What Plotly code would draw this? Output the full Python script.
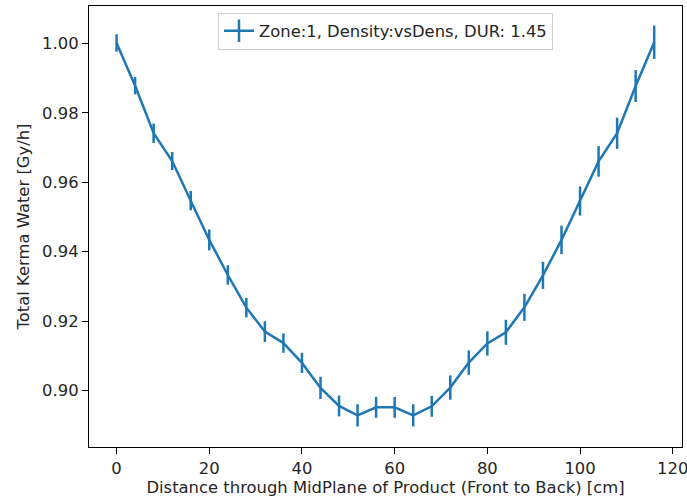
import plotly.graph_objects as go

distance_cm = [0, 4, 8, 12, 16, 20, 24, 28, 32, 36, 40, 44, 48, 52, 56,
               60, 64, 68, 72, 76, 80, 84, 88, 92, 96, 100, 104, 108, 112, 116]
kerma = [1.0001, 0.9878, 0.9741, 0.9661, 0.9547, 0.9434, 0.9333, 0.9239,
         0.9170, 0.9137, 0.9080, 0.9008, 0.8956, 0.8929, 0.8952, 0.8952,
         0.8929, 0.8955, 0.9009, 0.9081, 0.9136, 0.9168, 0.9240, 0.9332,
         0.9434, 0.9546, 0.9660, 0.9741, 0.9877, 1.0003]
kerma_err = [0.0025, 0.0025, 0.0028, 0.0026, 0.0028, 0.0030, 0.0028, 0.0028,
             0.0030, 0.0028, 0.0029, 0.0032, 0.0030, 0.0032, 0.0030, 0.0030,
             0.0032, 0.0030, 0.0035, 0.0035, 0.0035, 0.0036, 0.0039, 0.0039,
             0.0041, 0.0042, 0.0044, 0.0045, 0.0046, 0.0048]
legend_label = "Zone:1, Density:vsDens, DUR: 1.45"

color = "#1f77b4"
font_family = "DejaVu Sans"
fs = 16.4

fig = go.Figure()
fig.add_trace(go.Scatter(
    x=distance_cm, y=kerma, mode="lines",
    line=dict(color=color, width=2.5),
    error_y=dict(type="data", array=kerma_err, visible=True,
                 color=color, thickness=2.5, width=0),
    showlegend=False,
))
# legend entry (line with vertical errorbar glyph)
fig.add_trace(go.Scatter(
    x=[None], y=[None], mode="lines+markers", name=legend_label,
    line=dict(color=color, width=2.5),
    marker=dict(symbol="line-ns-open", size=17,
                line=dict(color=color, width=2.5), color=color),
))

axis_common = dict(
    showline=True, linecolor="black", linewidth=1.3, mirror=True,
    ticks="outside", ticklen=6, tickwidth=1.3, tickcolor="black",
    showgrid=False, zeroline=False, ticklabeloverflow="allow",
    automargin=False,
    tickfont=dict(family=font_family, size=fs, color="#262626"),
)

fig.update_layout(
    width=687, height=499,
    margin=dict(l=89, r=5, t=6, b=52),
    paper_bgcolor="white", plot_bgcolor="white",
    font=dict(family=font_family, size=fs, color="#262626"),
    xaxis=dict(range=[-5.95, 122.0], tickvals=[0, 20, 40, 60, 80, 100, 120],
               title=dict(text="Distance through MidPlane of Product (Front to Back) [cm]",
                          font=dict(family=font_family, size=fs), standoff=4),
               **axis_common),
    yaxis=dict(range=[0.88379, 1.01074],
               tickvals=[0.90, 0.92, 0.94, 0.96, 0.98, 1.00], tickformat=".2f",
               title=dict(text="Total Kerma Water [Gy/h]",
                          font=dict(family=font_family, size=fs), standoff=8),
               **axis_common),
    legend=dict(x=0.5, xanchor="center", y=0.985, yanchor="top",
                bgcolor="rgba(255,255,255,0.8)", bordercolor="#d0d0d0", borderwidth=1,
                font=dict(family=font_family, size=fs, color="#262626"),
                itemwidth=30),
)

fig.write_html("out.html")
